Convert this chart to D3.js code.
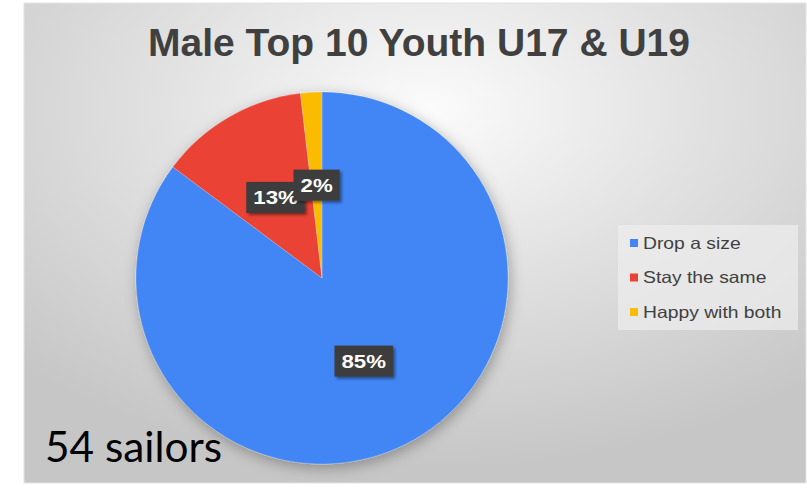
<!DOCTYPE html>
<html>
<head>
<meta charset="utf-8">
<script src="https://cdn.jsdelivr.net/npm/d3@7"></script>
<style>
  html, body { margin: 0; padding: 0; background: #fff; }
  svg { display: block; }
</style>
</head>
<body>
<svg id="chart" width="807" height="489"></svg>
<script>
const categories = ['Drop a size', 'Stay the same', 'Happy with both'];
const counts = [46, 7, 1];
const colors = ['#4285f4', '#ea4335', '#fbbc04'];
const title = 'Male Top 10 Youth U17 & U19';
const note = '54 sailors';

// the source picture is a little wider than it is tall
const sx = 1.17;

const svg = d3.select('#chart');
const defs = svg.append('defs');

const bg = defs.append('radialGradient')
  .attr('id', 'bg')
  .attr('cx', '52%').attr('cy', '22%').attr('r', '75%')
  .attr('fx', '52%').attr('fy', '22%');
bg.append('stop').attr('offset', '0%').attr('stop-color', '#fbfbfb');
bg.append('stop').attr('offset', '45%').attr('stop-color', '#e2e2e2');
bg.append('stop').attr('offset', '100%').attr('stop-color', '#c6c6c6');

const pieShadow = defs.append('filter').attr('id', 'pieShadow')
  .attr('x', '-20%').attr('y', '-20%').attr('width', '140%').attr('height', '140%');
pieShadow.append('feDropShadow')
  .attr('dx', 2).attr('dy', 4).attr('stdDeviation', 7)
  .attr('flood-color', '#000').attr('flood-opacity', 0.3);

const boxShadow = defs.append('filter').attr('id', 'boxShadow')
  .attr('x', '-30%').attr('y', '-30%').attr('width', '160%').attr('height', '160%');
boxShadow.append('feDropShadow')
  .attr('dx', 2).attr('dy', 2).attr('stdDeviation', 1.5)
  .attr('flood-color', '#000').attr('flood-opacity', 0.45);

// frame
svg.append('rect')
  .attr('x', 24).attr('y', 3)
  .attr('width', 782).attr('height', 480)
  .attr('fill', 'url(#bg)')
  .attr('stroke', '#e4e4e4')
  .attr('stroke-width', 1);

// title
svg.append('text')
  .attr('x', 419)
  .attr('y', 56)
  .attr('text-anchor', 'middle')
  .attr('font-family', 'Liberation Sans, Arial, sans-serif')
  .attr('font-weight', 'bold')
  .attr('font-size', 38)
  .attr('fill', '#404040')
  .attr('textLength', 542)
  .attr('lengthAdjust', 'spacingAndGlyphs')
  .text(title);

// pie
const cx = 322, cy = 278, radius = 186;
const total = d3.sum(counts);
const data = categories.map((c, i) => ({ name: c, value: counts[i], color: colors[i] }));

const pie = d3.pie().sort(null).value(d => d.value);
const arc = d3.arc().innerRadius(0).outerRadius(radius);
const pct = d3.format('.0%');

const chart = svg.append('g')
  .attr('transform', `translate(${cx}, ${cy})`);

chart.append('g')
  .attr('filter', 'url(#pieShadow)')
  .selectAll('path')
  .data(pie(data))
  .enter()
  .append('path')
  .attr('d', arc)
  .attr('fill', d => d.data.color)
  .attr('stroke', 'rgba(255,255,255,0.35)')
  .attr('stroke-width', 0.6);

// data labels, dark boxes at the slice centroids
const labels = chart.selectAll('.lbl')
  .data(pie(data))
  .enter()
  .append('g')
  .attr('class', 'lbl')
  .attr('transform', d => `translate(${arc.centroid(d)})`);

labels.each(function(d) {
  const g = d3.select(this);
  const rect = g.append('rect')
    .attr('fill', '#3d3d3d')
    .attr('filter', 'url(#boxShadow)');
  const t = g.append('text')
    .attr('text-anchor', 'middle')
    .attr('dy', '0.36em')
    .attr('font-family', 'Liberation Sans, Arial, sans-serif')
    .attr('font-weight', 'bold')
    .attr('font-size', 19)
    .attr('fill', '#ffffff')
    .text(pct(d.data.value / total));
  const w = t.node().getComputedTextLength() * sx;
  t.attr('textLength', w).attr('lengthAdjust', 'spacingAndGlyphs');
  rect.attr('x', -w / 2 - 7).attr('y', -15.5)
    .attr('width', w + 14).attr('height', 31);
});

// legend
const legend = svg.append('g');
legend.append('rect')
  .attr('x', 618).attr('y', 225)
  .attr('width', 180).attr('height', 105)
  .attr('fill', '#eeeeee')
  .attr('fill-opacity', 0.7);

const ly = d3.scalePoint()
  .domain(categories)
  .range([243, 312]);

const items = legend.selectAll('.item')
  .data(data)
  .enter()
  .append('g')
  .attr('class', 'item')
  .attr('transform', d => `translate(630, ${ly(d.name)})`);

items.append('rect')
  .attr('x', 0).attr('y', -4)
  .attr('width', 8).attr('height', 8)
  .attr('fill', d => d.color);

items.append('text')
  .attr('x', 13)
  .attr('dy', '0.35em')
  .attr('font-family', 'Liberation Sans, Arial, sans-serif')
  .attr('font-size', 16.5)
  .attr('fill', '#404040')
  .text(d => d.name)
  .each(function() {
    const t = d3.select(this);
    t.attr('textLength', this.getComputedTextLength() * sx)
      .attr('lengthAdjust', 'spacingAndGlyphs');
  });

// sample size note
svg.append('text')
  .attr('x', 45)
  .attr('y', 462)
  .attr('font-family', 'Lato, Carlito, Calibri, sans-serif')
  .attr('font-size', 42)
  .attr('fill', '#000')
  .attr('textLength', 177)
  .attr('lengthAdjust', 'spacingAndGlyphs')
  .text(note);
</script>
</body>
</html>
